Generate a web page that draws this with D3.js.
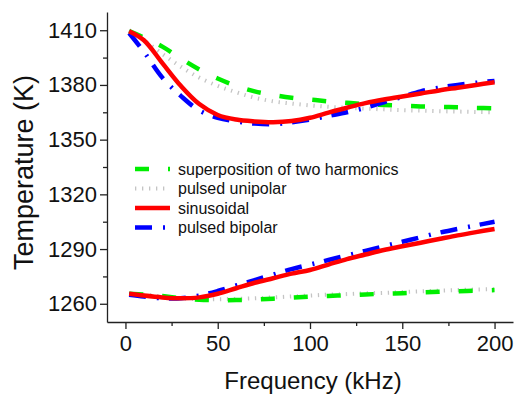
<!DOCTYPE html>
<html>
<head>
<meta charset="utf-8">
<script src="https://d3js.org/d3.v7.min.js"></script>
<style>
  body { margin: 0; background: #fff; }
  text { font-family: "Liberation Sans", Arial, sans-serif; }
</style>
</head>
<body>
<div id="chart"></div>
<script>
// Frequency points (kHz)
const freq = [2, 10, 20, 30, 40, 50, 60, 70, 80, 90, 100, 110, 120, 130, 140, 150, 160, 170, 180, 190, 200];

// Temperature (K), upper and lower curve of each waveform
const superHigh = [1409.5, 1406, 1401, 1394.5, 1388.5, 1383.5, 1379.5, 1376.5, 1374.5, 1373, 1372, 1371, 1370.2, 1369.5, 1369, 1368.6, 1368.2, 1368, 1367.7, 1367.4, 1367.2];
const superLow = [1265.5, 1265, 1264.3, 1263, 1262.2, 1262, 1262, 1262.3, 1262.8, 1263.4, 1263.9, 1264.3, 1264.7, 1265.1, 1265.5, 1265.8, 1266.2, 1266.6, 1266.9, 1267.2, 1267.5];
const unipolarHigh = [1410, 1404.5, 1397, 1390, 1384, 1379.5, 1376, 1373, 1371, 1369.8, 1368.8, 1368, 1367.5, 1367, 1366.6, 1366.2, 1365.9, 1365.6, 1365.4, 1365.2, 1365];
const unipolarLow = [1265.5, 1265, 1264, 1263, 1262.5, 1262.5, 1262.7, 1263, 1263.5, 1264, 1264.5, 1265, 1265.3, 1265.7, 1266, 1266.4, 1266.8, 1267.2, 1267.5, 1267.8, 1268];
const sineHigh = [1409.5, 1404.5, 1392, 1379.5, 1369.5, 1363.5, 1361, 1360, 1359.6, 1360.2, 1362, 1364.8, 1367.5, 1370, 1372, 1373.7, 1375.3, 1377, 1378.5, 1380, 1381.5];
const sineLow = [1265.5, 1264.5, 1263.5, 1263, 1263.5, 1265.5, 1268.5, 1271.5, 1274, 1276.5, 1278.5, 1281.5, 1284.5, 1287, 1289.5, 1291.5, 1293.5, 1295.5, 1297.5, 1299.3, 1301];
const bipolarHigh = [1408.5, 1398.2, 1384, 1374, 1366, 1362, 1360, 1358.8, 1358.5, 1359.5, 1361, 1363, 1365, 1367.5, 1370.5, 1373.5, 1376.5, 1378.5, 1380, 1381.2, 1382.2];
const bipolarLow = [1265, 1264, 1263, 1263, 1264.5, 1267, 1270, 1273, 1276, 1279, 1281.5, 1284, 1286.5, 1289, 1291.5, 1294, 1296.5, 1299, 1301, 1303, 1305];

// Tick values
const xTicks = [0, 50, 100, 150, 200];
const xMinor = [25, 75, 125, 175];
const yTicks = [1260, 1290, 1320, 1350, 1380, 1410];
const yMinor = [1275, 1305, 1335, 1365, 1395];

// Legend labels (in legend order)
const legendLabels = ["superposition of two harmonics", "pulsed unipolar", "sinusoidal", "pulsed bipolar"];

const margin = {top: 12, right: 2, bottom: 72, left: 107},
      width = 515 - margin.left - margin.right,
      height = 394 - margin.top - margin.bottom;

const svg = d3.select("#chart")
              .append("svg")
              .attr("width", 515)
              .attr("height", 394)
              .append("g")
              .attr("transform", `translate(${margin.left},${margin.top})`);

const xScale = d3.scaleLinear().domain([-10, 210]).range([0, width]);
const yScale = d3.scaleLinear().domain([1250, 1420]).range([height, 0]);

// Series styles
const styles = {
    superposition: {color: "#00ee00", width: 4.5, dash: "14,19"},
    unipolar:      {color: "#c4c4c4", width: 4,   dash: "1.3,5.7"},
    sinusoidal:    {color: "#ff0000", width: 4.5, dash: null},
    bipolar:       {color: "#0000ff", width: 4.5, dash: "17,11,2,10"}
};

const series = [
    {key: "unipolar", curves: [unipolarHigh, unipolarLow]},
    {key: "superposition", curves: [superHigh, superLow]},
    {key: "bipolar", curves: [bipolarHigh, bipolarLow]},
    {key: "sinusoidal", curves: [sineHigh, sineLow]}
];

const line = d3.line()
               .x((d, i) => xScale(freq[i]))
               .y(d => yScale(d))
               .curve(d3.curveCatmullRom.alpha(0.5));

series.forEach(function(s) {
    const st = styles[s.key];
    s.curves.forEach(function(c) {
        svg.append("path")
           .datum(c)
           .attr("fill", "none")
           .attr("stroke", st.color)
           .attr("stroke-width", st.width)
           .attr("stroke-dasharray", st.dash)
           .attr("d", line);
    });
});

// Axes
svg.append("g")
   .attr("transform", `translate(0, ${height})`)
   .call(d3.axisBottom(xScale).tickValues(xTicks).tickFormat(d3.format("d"))
         .tickSize(7).tickPadding(6).tickSizeOuter(0));

svg.append("g")
   .attr("transform", `translate(0, ${height})`)
   .call(d3.axisBottom(xScale).tickValues(xMinor).tickSize(4).tickFormat("").tickSizeOuter(0))
   .select(".domain").remove();

svg.append("g")
   .call(d3.axisLeft(yScale).tickValues(yTicks).tickFormat(d3.format("d"))
         .tickSize(7).tickPadding(3).tickSizeOuter(0));

svg.append("g")
   .call(d3.axisLeft(yScale).tickValues(yMinor).tickSize(4).tickFormat("").tickSizeOuter(0))
   .select(".domain").remove();

svg.selectAll(".domain").attr("stroke", "#222").attr("stroke-width", 1.3);
svg.selectAll(".tick line").attr("stroke", "#222").attr("stroke-width", 1.3);
svg.selectAll(".tick text")
   .style("font-family", "'Liberation Sans', Arial, sans-serif")
   .style("font-size", "22px")
   .attr("fill", "#111");

// Axis labels
svg.append("text")
   .attr("x", (xScale(-10) + xScale(210)) / 2 + 3)
   .attr("y", 389 - margin.top)
   .attr("text-anchor", "middle")
   .style("font-size", "24px")
   .attr("fill", "#111")
   .text("Frequency (kHz)");

svg.append("text")
   .attr("transform", "rotate(-90)")
   .attr("x", -(172.5 - margin.top))
   .attr("y", 33 - margin.left)
   .attr("text-anchor", "middle")
   .style("font-size", "27px")
   .attr("fill", "#111")
   .text("Temperature (K)");

// Legend
const legendKeys = ["superposition", "unipolar", "sinusoidal", "bipolar"];
const legend = svg.append("g")
   .attr("transform", `translate(${135 - margin.left}, ${169 - margin.top})`);

legendKeys.forEach(function(k, i) {
    const st = styles[k];
    const row = legend.append("g").attr("transform", `translate(0, ${i * 19.5})`);
    row.append("line")
       .attr("x1", 0).attr("x2", 35)
       .attr("stroke", st.color)
       .attr("stroke-width", st.width)
       .attr("stroke-dasharray", st.dash);
    row.append("text")
       .attr("x", 43)
       .attr("y", 0)
       .attr("dy", "0.35em")
       .style("font-size", "16px")
       .attr("fill", "#111")
       .text(legendLabels[i]);
});
</script>
</body>
</html>
